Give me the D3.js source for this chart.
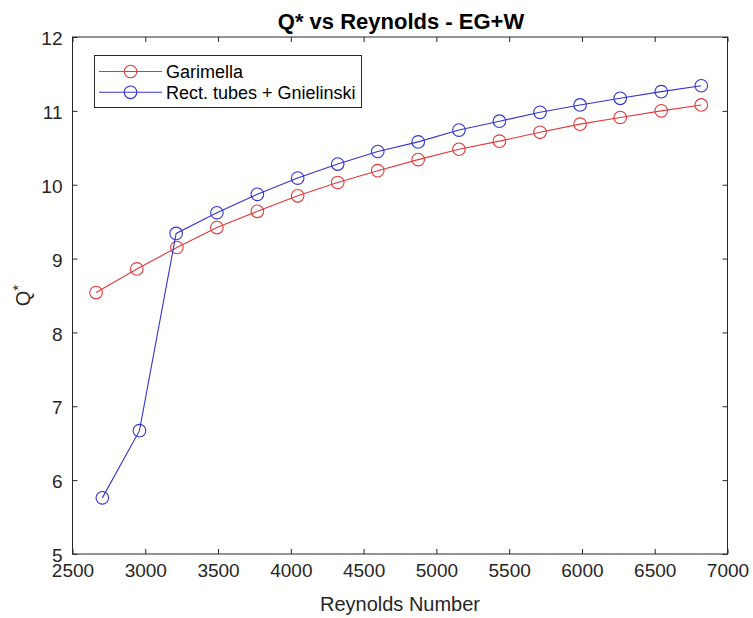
<!DOCTYPE html>
<html>
<head>
<meta charset="utf-8">
<script src="https://cdn.jsdelivr.net/npm/d3@7"></script>
<style>
  html, body { margin: 0; padding: 0; background: #fff; }
  svg { display: block; font-family: "Liberation Sans", Arial, Helvetica, sans-serif; }
</style>
</head>
<body>
<svg id="chart" width="753" height="618"></svg>
<script>
// Reynolds numbers and Q* for each correlation
const reGarimella = [2662, 2942, 3217, 3492, 3770, 4047, 4322, 4597, 4875, 5155, 5433, 5712, 5987, 6263, 6545, 6820];
const qGarimella  = [8.54, 8.86, 9.15, 9.42, 9.64, 9.85, 10.03, 10.19, 10.34, 10.48, 10.59, 10.71, 10.82, 10.91, 11.00, 11.08];
const reGnielinski = [2705, 2960, 3212, 3492, 3770, 4047, 4322, 4597, 4875, 5155, 5433, 5712, 5987, 6263, 6545, 6820];
const qGnielinski  = [5.76, 6.67, 9.34, 9.62, 9.87, 10.09, 10.28, 10.45, 10.58, 10.74, 10.86, 10.98, 11.08, 11.17, 11.26, 11.34];

const xTicks = [2500, 3000, 3500, 4000, 4500, 5000, 5500, 6000, 6500, 7000];
const yTicks = [5, 6, 7, 8, 9, 10, 11, 12];
const seriesNames = ["Garimella", "Rect. tubes + Gnielinski"];
const seriesColors = ["#e2383a", "#3434cc"];

const titleText = "Q* vs Reynolds - EG+W";
const xLabelText = "Reynolds Number";

const svg = d3.select("#chart");
const axisColor = "#262626";
const plot = { left: 72.5, right: 727.5, top: 37, bottom: 554 };

const x = d3.scaleLinear().domain([2500, 7000]).range([plot.left, plot.right]);
const y = d3.scaleLinear().domain([5, 12]).range([plot.bottom, plot.top]);

// axes box with inward ticks on all four sides
const g = svg.append("g");
const tickLen = 5;

const bottomAxis = d3.axisBottom(x).tickValues(xTicks).tickSize(-tickLen).tickPadding(10).tickFormat(d3.format("d"));
const topAxis = d3.axisTop(x).tickValues(xTicks).tickSize(-tickLen).tickFormat("");
const leftAxis = d3.axisLeft(y).tickValues(yTicks).tickSize(-tickLen).tickPadding(10).tickFormat(d3.format("d"));
const rightAxis = d3.axisRight(y).tickValues(yTicks).tickSize(-tickLen).tickFormat("");

function styleAxis(sel) {
  sel.select(".domain").attr("stroke", axisColor).attr("stroke-width", 1);
  sel.selectAll(".tick line").attr("stroke", axisColor).attr("stroke-width", 1);
  sel.selectAll(".tick text").attr("fill", axisColor).style("font-size", "19px")
     .style("font-family", "'Liberation Sans', Arial, sans-serif");
}

g.append("g").attr("transform", `translate(0,${plot.bottom})`).call(bottomAxis).call(styleAxis)
  .selectAll(".tick text").attr("dy", "0.66em");
g.append("g").attr("transform", `translate(0,${plot.top})`).call(topAxis).call(styleAxis);
g.append("g").attr("transform", `translate(${plot.left},0)`).call(leftAxis).call(styleAxis)
  .selectAll(".tick text").attr("dy", "0.4em");
g.append("g").attr("transform", `translate(${plot.right},0)`).call(rightAxis).call(styleAxis);

// strip the outer tick caps d3 adds to the domain paths
g.selectAll(".domain").attr("d", null);
svg.append("rect")
  .attr("x", plot.left).attr("y", plot.top)
  .attr("width", plot.right - plot.left).attr("height", plot.bottom - plot.top)
  .attr("fill", "none").attr("stroke", axisColor).attr("stroke-width", 1);

// series
const series = [
  { name: seriesNames[0], color: seriesColors[0], xs: reGarimella, ys: qGarimella },
  { name: seriesNames[1], color: seriesColors[1], xs: reGnielinski, ys: qGnielinski }
];

const line = d3.line().x(d => x(d[0])).y(d => y(d[1]));
const markerR = 6.3;

series.forEach(s => {
  const pts = s.xs.map((v, i) => [v, s.ys[i]]);
  svg.append("path").datum(pts)
    .attr("d", line).attr("fill", "none")
    .attr("stroke", s.color).attr("stroke-width", 1.1);
  svg.append("g").selectAll("circle").data(pts).join("circle")
    .attr("cx", d => x(d[0])).attr("cy", d => y(d[1]))
    .attr("r", markerR).attr("fill", "none")
    .attr("stroke", s.color).attr("stroke-width", 1.1);
});

// title and axis labels
svg.append("text")
  .attr("x", (plot.left + plot.right) / 2 + 1).attr("y", 29)
  .attr("text-anchor", "middle").attr("fill", "#000")
  .style("font-size", "22px").style("font-weight", "bold")
  .text(titleText);

svg.append("text")
  .attr("x", (plot.left + plot.right) / 2).attr("y", 611)
  .attr("text-anchor", "middle").attr("fill", axisColor)
  .style("font-size", "20px")
  .text(xLabelText);

const yl = svg.append("text")
  .attr("transform", `translate(30,${(plot.top + plot.bottom) / 2}) rotate(-90)`)
  .attr("text-anchor", "middle").attr("fill", axisColor)
  .style("font-size", "20px");
yl.append("tspan").text("Q");
yl.append("tspan").attr("dy", "-0.45em").style("font-size", "15px").text("*");

// legend
const leg = svg.append("g");
leg.append("rect")
  .attr("x", 94.5).attr("y", 55.5).attr("width", 267).attr("height", 52)
  .attr("fill", "#fff").attr("stroke", axisColor).attr("stroke-width", 1);
series.forEach((s, i) => {
  const ly = 71.5 + i * 20.8;
  leg.append("line")
    .attr("x1", 99).attr("x2", 162).attr("y1", ly).attr("y2", ly)
    .attr("stroke", s.color).attr("stroke-width", 1.1);
  leg.append("circle")
    .attr("cx", 130.5).attr("cy", ly).attr("r", markerR)
    .attr("fill", "none").attr("stroke", s.color).attr("stroke-width", 1.1);
  leg.append("text")
    .attr("x", 166).attr("y", ly).attr("dy", "0.36em")
    .attr("fill", "#000").style("font-size", "18px")
    .text(s.name);
});
</script>
</body>
</html>
